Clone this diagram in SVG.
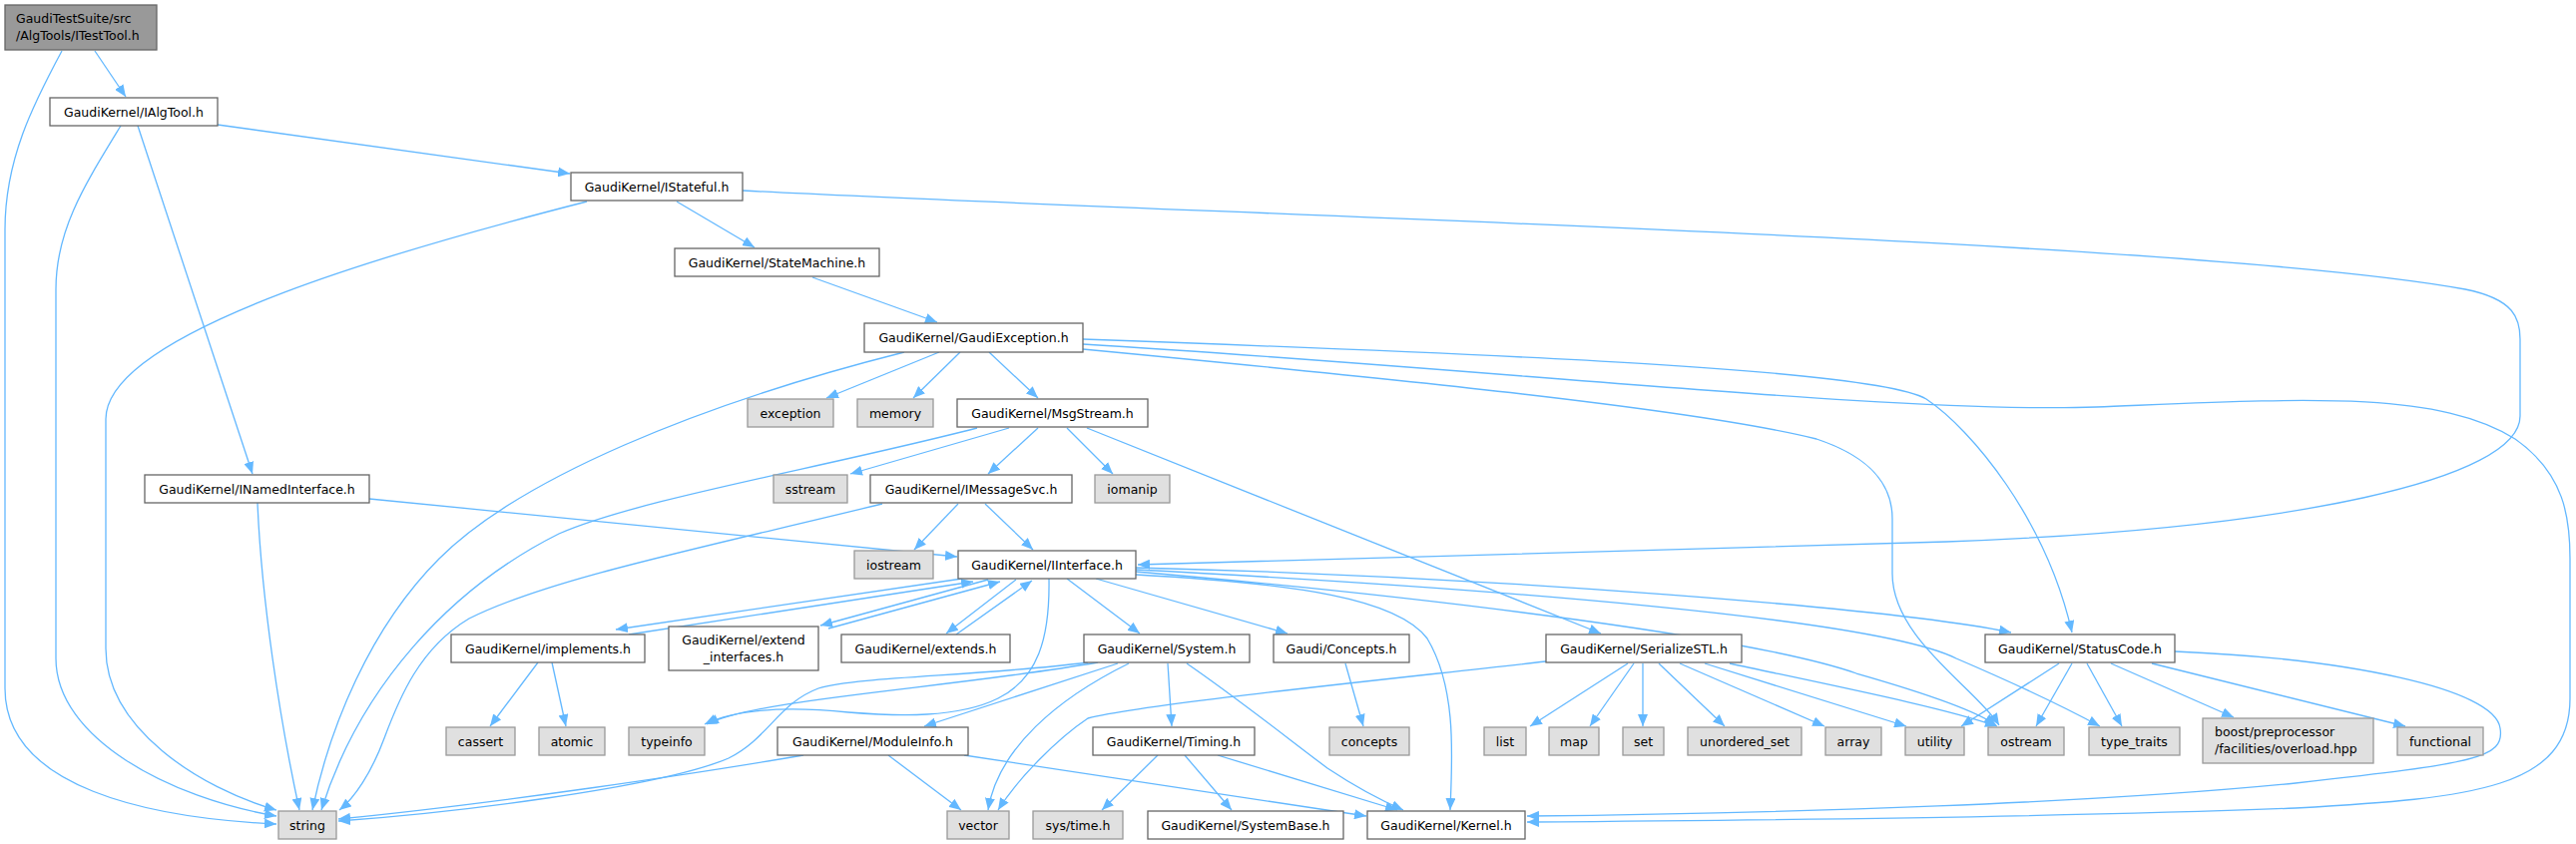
<svg xmlns="http://www.w3.org/2000/svg" width="2581" height="846" viewBox="0 0 2581 846">
<defs>
<marker id="ah" markerWidth="12" markerHeight="10" refX="12" refY="5" orient="auto" markerUnits="userSpaceOnUse">
<path d="M0,0 L12,5 L0,10 z" fill="#63b8ff"/>
</marker>
<style>
.n rect{fill:#fff;stroke:#666;stroke-width:1.3}
.g rect{fill:#e0e0e0;stroke:#999;stroke-width:1.3}
.r rect{fill:#999;stroke:#666;stroke-width:1.3}
text{font-family:"DejaVu Sans",sans-serif;font-size:12.5px;fill:#000}
.c{text-anchor:middle}
#edges path{fill:none;stroke:#63b8ff;stroke-width:1.3;marker-end:url(#ah)}
</style>
</defs>
<rect width="2581" height="846" fill="#fff"/>
<g id="edges">
<path d="M95,51 L126,97"/>
<path d="M62,51 C33,105 5,160 5,230 L5,690 C5,790 150,820 277,826"/>
<path d="M121,126 C85,185 56,230 56,290 L56,660 C56,740 170,800 277,818"/>
<path d="M138,126 L253,475"/>
<path d="M218,125 L571,174"/>
<path d="M588,202 C420,245 106,330 106,420 L106,650 C106,730 200,790 277,812"/>
<path d="M678,202 L756,248"/>
<path d="M744,191 C1200,215 2200,240 2470,290 C2520,300 2525,320 2525,340 L2525,417 C2525,480 2300,530 1950,543 C1600,555 1300,562 1140,566"/>
<path d="M814,278 L939,323"/>
<path d="M941,353 L828,399"/>
<path d="M962,353 L915,399"/>
<path d="M991,353 L1040,399"/>
<path d="M906,353 C700,405 520,480 440,560 C370,630 330,730 313,812"/>
<path d="M979,429 C820,470 640,500 560,535 C450,590 360,690 322,812"/>
<path d="M884,505 C700,550 550,580 470,620 C420,650 400,700 385,740 C372,775 355,800 340,812"/>
<path d="M1085,340 C1500,355 1880,370 1930,400 C1975,430 2050,520 2076,634"/>
<path d="M1085,345 C1500,370 1900,415 2100,408 C2300,400 2440,390 2520,440 C2570,475 2575,520 2575,560 L2575,700 C2575,790 2480,800 2300,810 C2100,818 1800,822 1530,824"/>
<path d="M1085,350 C1400,380 1700,410 1820,440 C1880,460 1896,490 1896,520 L1896,575 C1896,640 1980,690 2003,727"/>
<path d="M1011,429 L852,475"/>
<path d="M1040,429 L990,475"/>
<path d="M1069,429 L1115,475"/>
<path d="M1089,429 L1604,635"/>
<path d="M960,505 L916,551"/>
<path d="M987,505 L1035,551"/>
<path d="M370,500 L959,558"/>
<path d="M258,504 C262,600 280,720 300,812"/>
<path d="M964,580 L617,631"/>
<path d="M630,636 L975,583"/>
<path d="M990,581 L822,627"/>
<path d="M830,630 L1002,583"/>
<path d="M1018,581 L948,635"/>
<path d="M958,636 L1034,582"/>
<path d="M1069,580 L1142,635"/>
<path d="M1098,580 L1290,635"/>
<path d="M1051,580 C1052,640 1040,680 1000,700 C960,720 900,718 850,714 C790,708 740,710 706,726"/>
<path d="M1138,576 C1300,585 1400,600 1430,640 C1460,690 1455,760 1453,812"/>
<path d="M1138,569 C1500,578 1900,610 2015,634"/>
<path d="M1138,571 C1500,590 1880,620 1960,660 C2030,690 2080,715 2104,728"/>
<path d="M1138,573 C1450,600 1760,640 1860,675 C1930,695 1980,712 2000,727"/>
<path d="M539,664 L491,728"/>
<path d="M553,664 L567,728"/>
<path d="M1100,664 C950,690 760,700 708,726"/>
<path d="M1090,664 C980,678 860,678 820,690 C780,705 770,740 730,760 C660,790 450,815 339,823"/>
<path d="M1120,665 L926,728"/>
<path d="M1131,665 C1060,700 1000,750 990,812"/>
<path d="M1170,665 L1174,728"/>
<path d="M1189,665 C1240,700 1290,740 1330,770 C1360,790 1390,805 1406,812"/>
<path d="M1160,757 L1104,812"/>
<path d="M1187,757 L1234,812"/>
<path d="M1220,757 L1400,812"/>
<path d="M966,757 L1369,818"/>
<path d="M805,757 C700,775 500,805 339,821"/>
<path d="M890,757 L963,812"/>
<path d="M1348,665 L1366,728"/>
<path d="M1549,663 C1400,680 1150,705 1090,720 C1060,740 1020,780 1000,812"/>
<path d="M1631,665 L1533,728"/>
<path d="M1637,665 L1593,728"/>
<path d="M1646,665 L1646,728"/>
<path d="M1662,665 L1728,728"/>
<path d="M1683,665 L1828,728"/>
<path d="M1708,665 L1910,728"/>
<path d="M1733,665 C1850,690 1950,710 2001,728"/>
<path d="M2063,665 L1965,728"/>
<path d="M2076,665 L2040,728"/>
<path d="M2091,665 L2126,728"/>
<path d="M2115,665 L2238,719"/>
<path d="M2156,665 L2410,728"/>
<path d="M2179,653 C2350,660 2500,690 2505,730 C2510,760 2480,765 2300,785 C2100,805 1800,815 1530,818"/>
</g>
<g id="root" class="r"><rect x="5" y="5" width="152" height="45"/><text x="16" y="23">GaudiTestSuite/src</text><text x="16" y="40">/AlgTools/ITestTool.h</text></g>
<g id="IAlgTool" class="n"><rect x="50" y="98" width="168" height="28"/><text class="c" x="134" y="116.5">GaudiKernel/IAlgTool.h</text></g>
<g id="IStateful" class="n"><rect x="572" y="173" width="172" height="28"/><text class="c" x="658" y="191.5">GaudiKernel/IStateful.h</text></g>
<g id="StateMachine" class="n"><rect x="676" y="249" width="205" height="28"/><text class="c" x="778.5" y="267.5">GaudiKernel/StateMachine.h</text></g>
<g id="GaudiException" class="n"><rect x="866" y="324" width="219" height="29"/><text class="c" x="975.5" y="343">GaudiKernel/GaudiException.h</text></g>
<g id="INamedInterface" class="n"><rect x="145" y="476" width="225" height="28"/><text class="c" x="257.5" y="494.5">GaudiKernel/INamedInterface.h</text></g>
<g id="exception" class="g"><rect x="749" y="400" width="86" height="28"/><text class="c" x="792" y="418.5">exception</text></g>
<g id="memory" class="g"><rect x="859" y="400" width="76" height="28"/><text class="c" x="897" y="418.5">memory</text></g>
<g id="MsgStream" class="n"><rect x="959" y="400" width="191" height="28"/><text class="c" x="1054.5" y="418.5">GaudiKernel/MsgStream.h</text></g>
<g id="sstream" class="g"><rect x="775" y="476" width="74" height="28"/><text class="c" x="812" y="494.5">sstream</text></g>
<g id="IMessageSvc" class="n"><rect x="872" y="476" width="202" height="28"/><text class="c" x="973" y="494.5">GaudiKernel/IMessageSvc.h</text></g>
<g id="iomanip" class="g"><rect x="1097" y="476" width="75" height="28"/><text class="c" x="1134.5" y="494.5">iomanip</text></g>
<g id="iostream" class="g"><rect x="856" y="552" width="79" height="28"/><text class="c" x="895.5" y="570.5">iostream</text></g>
<g id="IInterface" class="n"><rect x="960" y="552" width="178" height="28"/><text class="c" x="1049" y="570.5">GaudiKernel/IInterface.h</text></g>
<g id="implements" class="n"><rect x="452" y="636" width="194" height="28"/><text class="c" x="549" y="654.5">GaudiKernel/implements.h</text></g>
<g id="extend_interfaces" class="n"><rect x="670" y="628" width="150" height="44"/><text class="c" x="745" y="646">GaudiKernel/extend</text><text class="c" x="745" y="663">_interfaces.h</text></g>
<g id="extends" class="n"><rect x="843" y="636" width="169" height="28"/><text class="c" x="927.5" y="654.5">GaudiKernel/extends.h</text></g>
<g id="System" class="n"><rect x="1086" y="636" width="166" height="28"/><text class="c" x="1169" y="654.5">GaudiKernel/System.h</text></g>
<g id="Concepts" class="n"><rect x="1276" y="636" width="136" height="28"/><text class="c" x="1344" y="654.5">Gaudi/Concepts.h</text></g>
<g id="SerializeSTL" class="n"><rect x="1549" y="636" width="196" height="28"/><text class="c" x="1647" y="654.5">GaudiKernel/SerializeSTL.h</text></g>
<g id="StatusCode" class="n"><rect x="1989" y="636" width="190" height="28"/><text class="c" x="2084" y="654.5">GaudiKernel/StatusCode.h</text></g>
<g id="cassert" class="g"><rect x="447" y="729" width="69" height="28"/><text class="c" x="481.5" y="747.5">cassert</text></g>
<g id="atomic" class="g"><rect x="540" y="729" width="66" height="28"/><text class="c" x="573" y="747.5">atomic</text></g>
<g id="typeinfo" class="g"><rect x="630" y="729" width="76" height="28"/><text class="c" x="668" y="747.5">typeinfo</text></g>
<g id="ModuleInfo" class="n"><rect x="779" y="729" width="191" height="28"/><text class="c" x="874.5" y="747.5">GaudiKernel/ModuleInfo.h</text></g>
<g id="Timing" class="n"><rect x="1095" y="729" width="162" height="28"/><text class="c" x="1176" y="747.5">GaudiKernel/Timing.h</text></g>
<g id="concepts" class="g"><rect x="1332" y="729" width="80" height="28"/><text class="c" x="1372" y="747.5">concepts</text></g>
<g id="list" class="g"><rect x="1487" y="729" width="42" height="28"/><text class="c" x="1508" y="747.5">list</text></g>
<g id="map" class="g"><rect x="1552" y="729" width="50" height="28"/><text class="c" x="1577" y="747.5">map</text></g>
<g id="set" class="g"><rect x="1626" y="729" width="41" height="28"/><text class="c" x="1646.5" y="747.5">set</text></g>
<g id="unordered_set" class="g"><rect x="1691" y="729" width="114" height="28"/><text class="c" x="1748" y="747.5">unordered_set</text></g>
<g id="array" class="g"><rect x="1829" y="729" width="56" height="28"/><text class="c" x="1857" y="747.5">array</text></g>
<g id="utility" class="g"><rect x="1909" y="729" width="59" height="28"/><text class="c" x="1938.5" y="747.5">utility</text></g>
<g id="ostream" class="g"><rect x="1992" y="729" width="76" height="28"/><text class="c" x="2030" y="747.5">ostream</text></g>
<g id="type_traits" class="g"><rect x="2093" y="729" width="91" height="28"/><text class="c" x="2138.5" y="747.5">type_traits</text></g>
<g id="boost" class="g"><rect x="2207" y="720" width="171" height="45"/><text x="2219" y="738">boost/preprocessor</text><text x="2219" y="755">/facilities/overload.hpp</text></g>
<g id="functional" class="g"><rect x="2402" y="729" width="86" height="28"/><text class="c" x="2445" y="747.5">functional</text></g>
<g id="string" class="g"><rect x="279" y="813" width="58" height="28"/><text class="c" x="308" y="831.5">string</text></g>
<g id="vector" class="g"><rect x="949" y="813" width="62" height="28"/><text class="c" x="980" y="831.5">vector</text></g>
<g id="systime" class="g"><rect x="1035" y="813" width="90" height="28"/><text class="c" x="1080" y="831.5">sys/time.h</text></g>
<g id="SystemBase" class="n"><rect x="1150" y="813" width="196" height="28"/><text class="c" x="1248" y="831.5">GaudiKernel/SystemBase.h</text></g>
<g id="Kernel" class="n"><rect x="1370" y="813" width="158" height="28"/><text class="c" x="1449" y="831.5">GaudiKernel/Kernel.h</text></g>
</svg>
